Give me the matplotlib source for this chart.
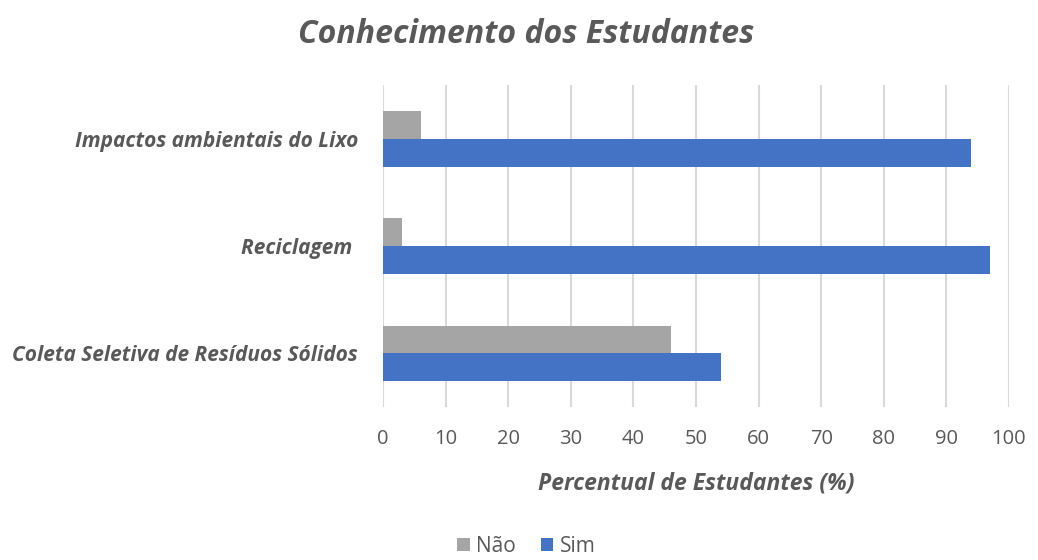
import numpy as np
import matplotlib.pyplot as plt

categorias = ['Coleta Seletiva de Resíduos Sólidos', 'Reciclagem ', 'Impactos ambientais do Lixo']
nao = [46, 3, 6]
sim = [54, 97, 94]
ticks = [0, 10, 20, 30, 40, 50, 60, 70, 80, 90, 100]

cinza_texto = '#595959'
plt.rcParams['font.family'] = ['Open Sans', 'DejaVu Sans']

fig = plt.figure(figsize=(10.38, 5.6), dpi=100)
ax = fig.add_axes([0.369, 0.273, 0.603, 0.575])

y = np.arange(len(categorias))
h = 0.26
ax.barh(y + h / 2, nao, height=h, color='#a5a5a5', label='Não')
ax.barh(y - h / 2, sim, height=h, color='#4472c4', label='Sim')

ax.set_xlim(0, 100)
ax.set_ylim(-0.5, 2.5)
ax.set_xticks(ticks)
ax.set_yticks(y)
ax.set_yticklabels(categorias, fontsize=15, fontstyle='italic', fontweight='bold', color=cinza_texto)
ax.tick_params(axis='x', length=0, labelsize=14.5, labelcolor=cinza_texto, pad=16)
ax.tick_params(axis='y', length=0, pad=18)

ax.grid(axis='x', color='#d9d9d9', linewidth=1.5)
ax.set_axisbelow(True)
for s in ax.spines.values():
    s.set_visible(False)

ax.set_xlabel('Percentual de Estudantes (%)', fontsize=16.5, fontstyle='italic', fontweight='bold',
              color=cinza_texto, labelpad=16)

fig.text(0.507, 0.938, 'Conhecimento dos Estudantes', ha='center', va='center', fontsize=23,
         fontstyle='italic', fontweight='bold', color=cinza_texto)

fig.legend(loc='center', bbox_to_anchor=(0.507, 0.024), ncol=2, frameon=False, fontsize=15,
           labelcolor=cinza_texto, handlelength=0.6, handleheight=0.6, handletextpad=0.3,
           columnspacing=1.2, borderpad=0.2)

fig.savefig('out.png', dpi=100)
